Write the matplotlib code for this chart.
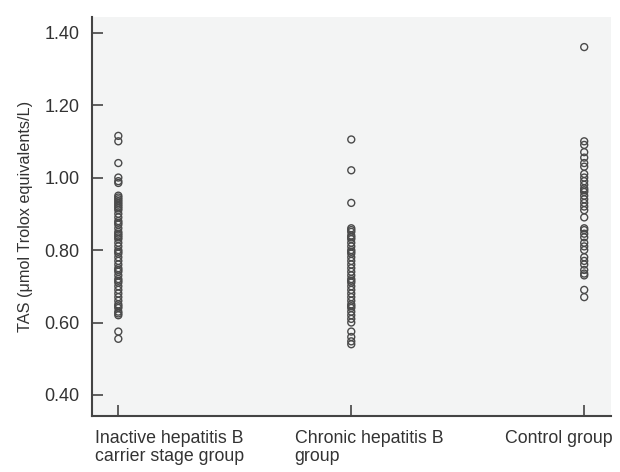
import matplotlib
matplotlib.use("Agg")
import matplotlib.pyplot as plt

plt.rcParams['font.family'] = ['Liberation Sans', 'DejaVu Sans']

groups = ["Inactive hepatitis B\ncarrier stage group", "Chronic hepatitis B\ngroup", "Control group"]

inactive = [1.115, 1.100, 1.040, 1.000, 0.990, 0.985, 0.950, 0.945, 0.940, 0.935, 0.930,
            0.925, 0.920, 0.915, 0.910, 0.900, 0.890, 0.880, 0.875, 0.870, 0.860, 0.850,
            0.845, 0.840, 0.835, 0.830, 0.820, 0.810, 0.800, 0.795, 0.790, 0.780, 0.770,
            0.760, 0.750, 0.745, 0.740, 0.730, 0.720, 0.715, 0.710, 0.700, 0.690, 0.680,
            0.670, 0.660, 0.650, 0.645, 0.640, 0.630, 0.625, 0.620, 0.575, 0.555]
chronic = [1.105, 1.020, 0.930, 0.860, 0.855, 0.850, 0.840, 0.835, 0.830, 0.820, 0.810,
           0.800, 0.795, 0.790, 0.780, 0.770, 0.760, 0.750, 0.740, 0.730, 0.720, 0.715,
           0.710, 0.700, 0.690, 0.680, 0.670, 0.660, 0.650, 0.645, 0.640, 0.630, 0.620,
           0.610, 0.600, 0.575, 0.560, 0.548, 0.540]
control = [1.360, 1.100, 1.090, 1.070, 1.055, 1.040, 1.030, 1.010, 1.000, 0.990, 0.980,
           0.970, 0.965, 0.960, 0.950, 0.940, 0.930, 0.920, 0.910, 0.890, 0.860, 0.855,
           0.845, 0.835, 0.820, 0.810, 0.800, 0.780, 0.770, 0.760, 0.745, 0.735, 0.730,
           0.690, 0.670]
series = [inactive, chronic, control]
yticks = [0.40, 0.60, 0.80, 1.00, 1.20, 1.40]
ylabel = "TAS (μmol Trolox equivalents/L)"

fig = plt.figure(figsize=(6.2, 4.72), dpi=100)
ax = fig.add_axes([92/620, 1-416/472, (611-92)/620, (416-17)/472])
ax.set_facecolor('#f3f4f4')

for i, vals in enumerate(series, start=1):
    ax.scatter([i]*len(vals), vals, s=25, facecolors='none', edgecolors='#4a4a4a',
               linewidths=1.0, zorder=3)

ax.set_xlim(0.887, 3.115)
ax.set_ylim(0.342, 1.443)
ax.set_yticks(yticks)
ax.set_yticklabels([f"{v:.2f}" for v in yticks], fontsize=13, color='#333333')
ax.set_xticks([1, 2, 3])
ax.set_xticklabels([])
label_x = [0.90, 1.757, 3.123]
label_ha = ['left', 'left', 'right']
for xx, g, ha in zip(label_x, groups, label_ha):
    ax.text(xx, -0.035, g, transform=ax.get_xaxis_transform(), ha=ha, va='top',
            fontsize=12.8, color='#333333', linespacing=1.1, multialignment='left')

ax.tick_params(direction='in', length=8, width=1.2, color='#444444', pad=9)
for side in ['top', 'right']:
    ax.spines[side].set_visible(False)
for side in ['left', 'bottom']:
    ax.spines[side].set_color('#444444')
    ax.spines[side].set_linewidth(1.5)

ax.set_ylabel(ylabel, fontsize=11.7, color='#333333', labelpad=8)

fig.savefig("out.png", dpi=100)
